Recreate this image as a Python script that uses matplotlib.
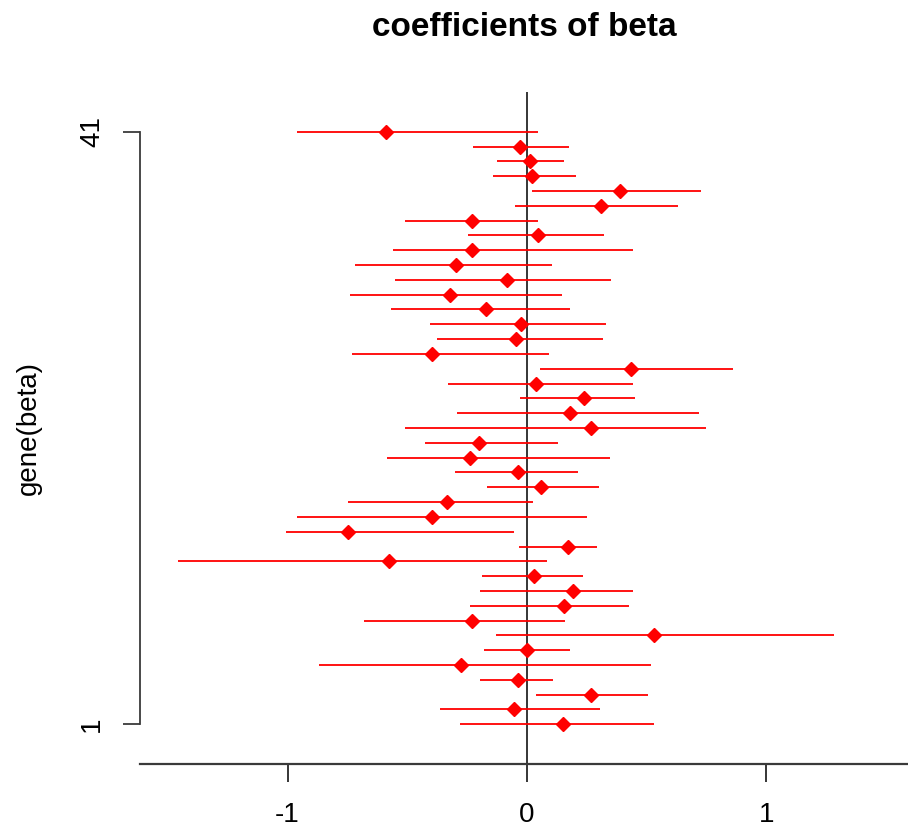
import matplotlib
matplotlib.use("Agg")
import matplotlib.pyplot as plt
import numpy as np

plt.rcParams['font.family'] = ['Liberation Sans', 'DejaVu Sans']

# gene index 1..41 (bottom to top)
genes = list(range(1, 42))
# estimates, listed from gene 1 (bottom) to gene 41 (top)
estimate = [0.150, -0.054, 0.267, -0.038, -0.276, 0.000, 0.530, -0.230, 0.154, 0.192,
            0.029, -0.576, 0.171, -0.747, -0.397, -0.334, 0.058, -0.038, -0.238, -0.200,
            0.267, 0.180, 0.238, 0.038, 0.434, -0.397, -0.046, -0.025, -0.171, -0.322,
            -0.084, -0.296, -0.230, 0.046, -0.230, 0.309, 0.388, 0.021, 0.013, -0.029,
            -0.589]
lower = [-0.280, -0.363, 0.038, -0.196, -0.868, -0.180, -0.129, -0.681, -0.238, -0.196,
         -0.188, -1.457, -0.033, -1.006, -0.960, -0.747, -0.167, -0.301, -0.585, -0.426,
         -0.509, -0.292, -0.029, -0.330, 0.054, -0.731, -0.376, -0.405, -0.568, -0.739,
         -0.551, -0.718, -0.559, -0.246, -0.509, -0.050, 0.021, -0.142, -0.125, -0.225,
         -0.960]
upper = [0.530, 0.305, 0.505, 0.109, 0.518, 0.180, 1.282, 0.159, 0.426, 0.443,
         0.234, 0.084, 0.292, -0.054, 0.251, 0.025, 0.301, 0.213, 0.347, 0.129,
         0.747, 0.718, 0.451, 0.443, 0.860, 0.092, 0.317, 0.330, 0.180, 0.146,
         0.351, 0.104, 0.443, 0.322, 0.046, 0.630, 0.727, 0.205, 0.154, 0.175,
         0.046]
xticks = [-1, 0, 1]
yticks = [1, 41]
ytick_labels = ["1", "41"]

W, H = 908, 838
fig = plt.figure(figsize=(W / 100, H / 100), dpi=100)
ax = fig.add_axes([140 / W, (H - 764) / H, (W - 140) / W, (764 - 92) / H])

ax.set_xlim(-1.616, 1.591)
ax.set_ylim(-1.68, 43.68)

ax.axvline(0, color='black', lw=1.1, zorder=1)
ax.hlines(genes, lower, upper, color='red', lw=1.3, zorder=2)
ax.plot(estimate, genes, linestyle='none', marker='D', markersize=7.3,
        color='red', markeredgecolor='red', markeredgewidth=1, zorder=3)

for s in ['top', 'right']:
    ax.spines[s].set_visible(False)
axcol = '#3a3a3a'
ax.spines['left'].set_bounds(1, 41)
ax.spines['left'].set_color(axcol)
ax.spines['left'].set_linewidth(1.3)
ax.spines['bottom'].set_color(axcol)
ax.spines['bottom'].set_linewidth(1.6)

ax.set_xticks(xticks)
ax.set_xticklabels([str(v) for v in xticks], fontsize=20)
ax.set_yticks(yticks)
ax.set_yticklabels(ytick_labels, fontsize=20, rotation=90, va='center')
ax.tick_params(axis='x', length=13, width=1.1, color='black', pad=14)
ax.tick_params(axis='y', length=12.2, width=1.3, color=axcol, pad=13)

fig.text(524 / W, 1 - 28 / H, "coefficients of beta", fontsize=24,
         fontweight='bold', ha='center', va='center')
fig.text(29 / W, 1 - 428 / H, "gene(beta)", fontsize=20, rotation=90,
         ha='center', va='center')

fig.savefig("out.png", dpi=100)
